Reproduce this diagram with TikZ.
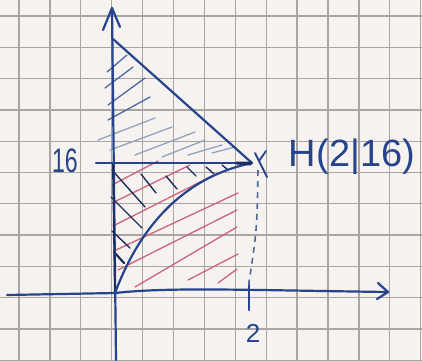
\documentclass[tikz,border=0pt]{standalone}
\usepackage{fontspec}
\setmainfont{Liberation Sans}
\usepackage{graphicx}
\definecolor{paper}{RGB}{246,242,240}
\definecolor{gridc}{RGB}{168,165,163}
\definecolor{ink}{RGB}{38,68,140}
\definecolor{inkdark}{RGB}{30,45,95}
\definecolor{inkdash}{RGB}{85,105,150}
\definecolor{hatchred}{RGB}{205,100,120}
\definecolor{hatchblue}{RGB}{75,105,160}
\definecolor{hatchpale}{RGB}{145,163,188}
\begin{document}
\begin{tikzpicture}[x=1pt,y=-1pt,
  gridline/.style={draw=gridc,line width=1.3pt},
  axisline/.style={draw=ink,line width=2.2pt,line cap=round,line join=round},
  graphline/.style={draw=ink,line width=2.2pt,line cap=round,line join=round},
  darkline/.style={draw=inkdark,line width=2.4pt,line cap=round},
  dashline/.style={draw=inkdash,line width=1.6pt,dash pattern=on 6pt off 5pt},
  redhatch/.style={draw=hatchred,line width=1.3pt,line cap=round},
  darkhatch/.style={draw=inkdark,line width=1.4pt,line cap=round},
  bluehatch/.style={draw=hatchblue,line width=1.3pt,line cap=round},
  palehatch/.style={draw=hatchpale,line width=1.3pt,line cap=round},
  lbl/.style={text=ink,inner sep=0pt}]
\fill[paper] (0,0) rectangle (422,360);
\useasboundingbox (0,0) rectangle (422,360);
% squared paper
\foreach \k in {0,...,13} \draw[gridline] ({19+30.9*\k},0) -- ({19+30.9*\k},360);
\foreach \k in {0,...,11} \draw[gridline] (0,{16+31.3*\k}) -- (422,{16+31.3*\k});
% key points
\coordinate (O) at (115,293);
\coordinate (H) at (252,163);
\coordinate (T) at (113,39);
\coordinate (Ytop) at (112,8);
\coordinate (Ybot) at (116,360);
\coordinate (Y16) at (113,163);
\coordinate (Y16l) at (96,163);
\coordinate (Xleft) at (7,295);
\coordinate (Xtip) at (388,292);
\coordinate (X2a) at (249,282);
\coordinate (X2b) at (249,310);
\coordinate (Hd) at (258,170);
\coordinate (X2) at (248,289);
% red hatching
\draw[redhatch] (112,185) -- (158,161);
\draw[redhatch] (112,203) -- (190,165);
\draw[redhatch] (113,226) -- (212,176);
\draw[redhatch] (116,250) -- (238,193);
\draw[redhatch] (118,270) -- (237,210);
\draw[redhatch] (135,287) -- (237,227);
\draw[redhatch] (188,280) -- (238,254);
\draw[redhatch] (218,283) -- (237,269);
% light blue hatching (upper triangle)
\draw[bluehatch] (107,72) -- (127,55);
\draw[bluehatch] (105,88) -- (133,67);
\draw[bluehatch] (108,105) -- (145,78);
\draw[bluehatch] (108,120) -- (150,97);
\draw[palehatch] (98,140) -- (155,118);
\draw[palehatch] (110,150) -- (172,127);
\draw[palehatch] (135,155) -- (195,132);
\draw[palehatch] (162,157) -- (205,140);
\draw[palehatch] (188,155) -- (222,145);
\draw[palehatch] (212,153) -- (235,147);
% dark hatching (between axis and curve)
\draw[darkhatch] (112,170) -- (145,207);
\draw[darkhatch] (141,174) -- (156,193);
\draw[darkhatch] (166,176) -- (177,189);
\draw[darkhatch] (187,167) -- (196,176);
\draw[darkhatch] (206,167) -- (214,174);
\draw[darkhatch] (222,165) -- (228,170);
\draw[darkhatch] (111,197) -- (142,228);
\draw[darkhatch] (112,231) -- (130,248);
\draw[darkhatch,line width=2.2pt] (114,252) -- (124,263);
% axes
\draw[axisline] (Ybot) -- (Ytop);
\draw[axisline] (103,30) -- (Ytop) -- (120,27);
\draw[darkline,line width=2pt] (Y16) -- (O);
\draw[axisline] (Xleft) -- (O) .. controls (170,287) and (240,290) .. (Xtip);
\draw[axisline] (378,283) -- (Xtip) -- (377,299);
\draw[axisline] (X2a) -- (X2b);
% graphs
\draw[graphline] (T) -- (H);
\draw[graphline] (Y16l) -- (H);
\draw[graphline] (O) .. controls (133,245) and (170,180) .. (H);
\fill[inkdark] (236,161.5) -- (252,161.5) -- (251,165.5) -- (236,164.5) -- cycle;
\draw[dashline] (Hd) .. controls (257,230) .. (X2);
% point H
\draw[graphline,line width=1.8pt] (255,153) -- (267,177);
\draw[graphline,line width=1.8pt] (266,151) -- (259,161);
% labels
\node[lbl,font=\fontsize{38}{38}\selectfont] (lH) at (352,157) {H(2|16)};
\node[lbl,font=\fontsize{34}{34}\selectfont] (l16) at (65,161) {\scalebox{0.68}[1]{16}};
\node[lbl,font=\fontsize{26}{26}\selectfont] (l2) at (253,333) {2};
\end{tikzpicture}
\end{document}
